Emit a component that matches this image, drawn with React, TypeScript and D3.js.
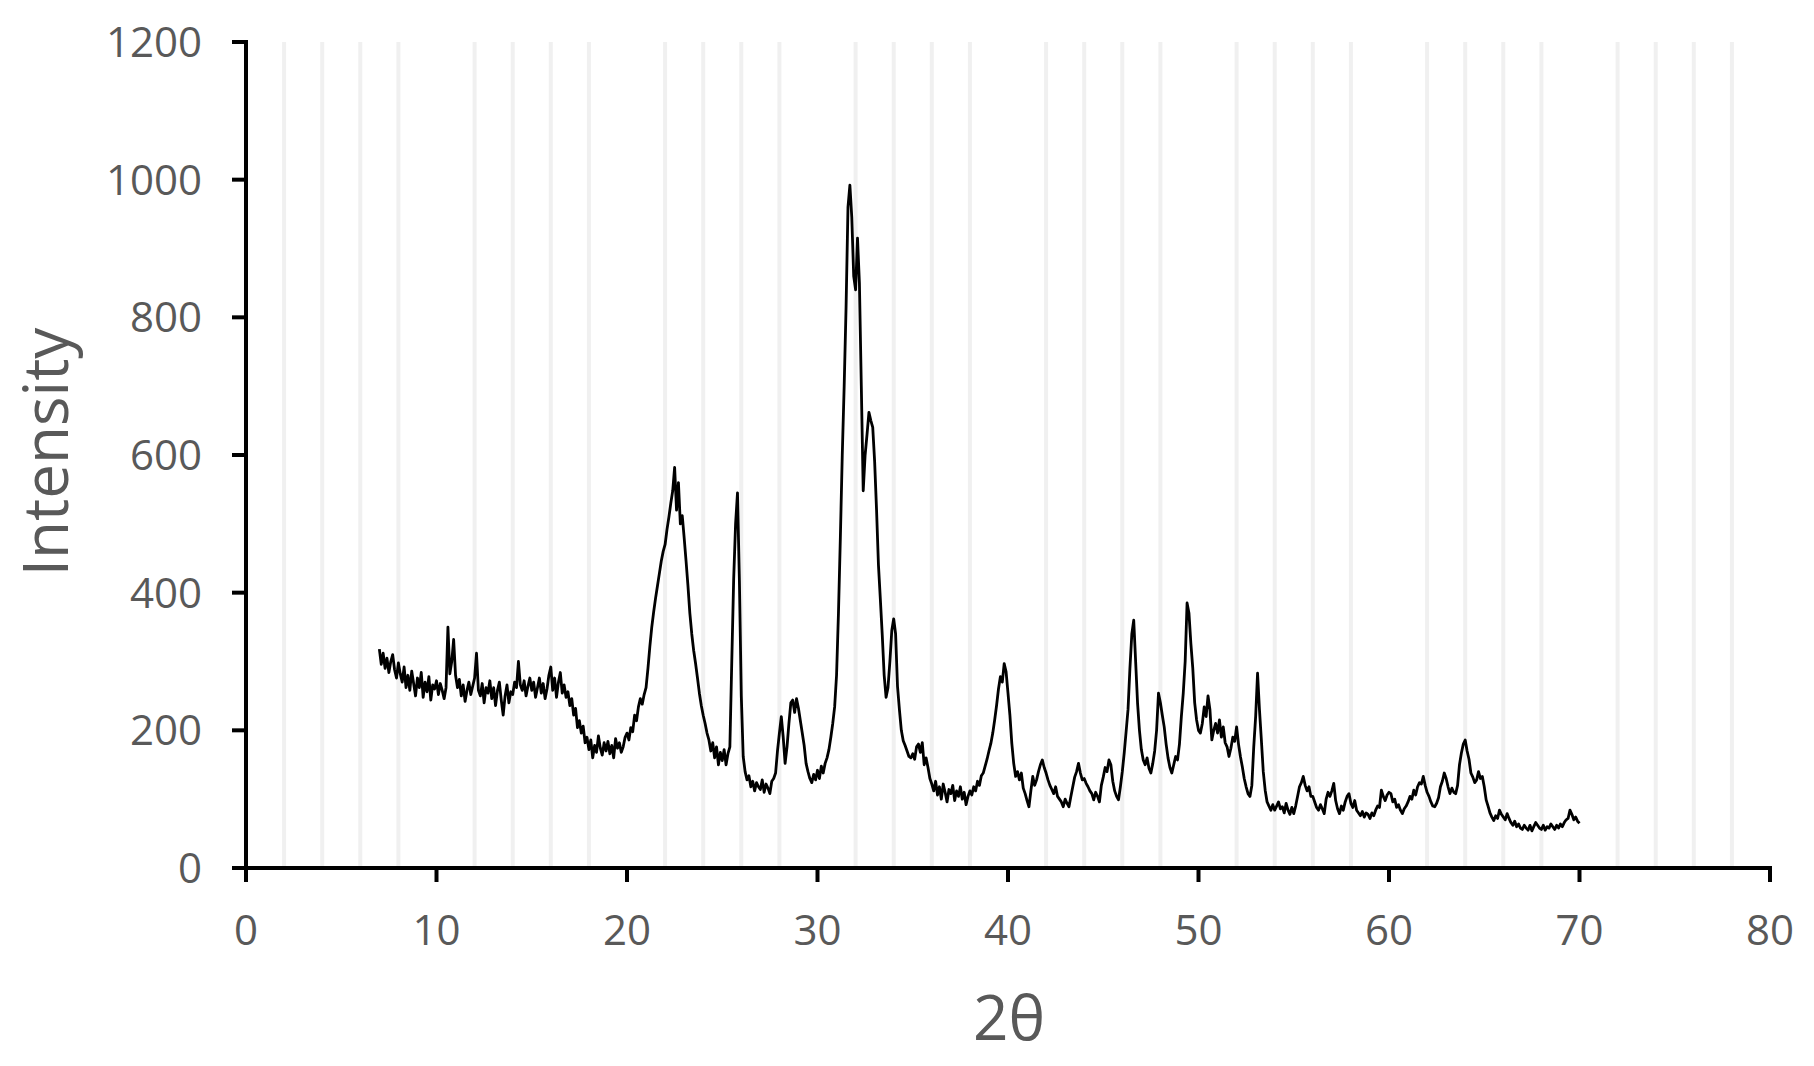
import React from "react";
import * as d3 from "d3";

// 2θ sampling: starts at 7.0°, one reading every 0.1°
const startAngle = 7.0;
const angleStep = 0.1;

// Intensity readings, one row per degree (7.x … 69.x), last value at 70.0
const intensity: number[] = [
  // 7
  318, 296, 312, 290, 305, 284, 300, 310, 288, 276,
  // 8
  298, 282, 270, 292, 262, 280, 258, 286, 268, 250,
  // 9
  276, 262, 284, 248, 270, 256, 278, 244, 266, 260,
  // 10
  272, 252, 268, 258, 246, 262, 350, 282, 300, 332,
  // 11
  280, 262, 274, 250, 266, 242, 258, 270, 252, 264,
  // 12
  276, 312, 258, 250, 268, 240, 262, 254, 272, 246,
  // 13
  262, 236, 258, 270, 244, 222, 250, 266, 240, 256,
  // 14
  252, 270, 262, 300, 266, 258, 272, 250, 264, 276,
  // 15
  258, 270, 248, 262, 276, 254, 268, 246, 260, 280,
  // 16
  292, 258, 276, 248, 270, 284, 254, 266, 248, 256,
  // 17
  236, 246, 222, 232, 204, 214, 196, 206, 182, 190,
  // 18
  172, 186, 160, 178, 168, 192, 174, 164, 182, 170,
  // 19
  184, 166, 178, 160, 188, 174, 182, 168, 176, 190,
  // 20
  196, 186, 204, 198, 222, 214, 234, 246, 238, 252,
  // 21
  262, 290, 322, 350, 372, 392, 410, 428, 446, 460,
  // 22
  470, 492, 510, 530, 548, 582, 520, 560, 500, 512,
  // 23
  480, 446, 410, 370, 340, 316, 297, 276, 254, 236,
  // 24
  222, 210, 196, 186, 170, 182, 160, 176, 150, 168,
  // 25
  156, 172, 150, 166, 176, 300, 420, 500, 545, 418,
  // 26
  250, 162, 140, 128, 134, 118, 126, 112, 124, 118,
  // 27
  114, 128, 110, 122, 116, 108, 126, 130, 138, 170,
  // 28
  196, 220, 190, 152, 176, 210, 240, 244, 226, 246,
  // 29
  232, 214, 196, 178, 152, 140, 130, 124, 136, 128,
  // 30
  142, 130, 148, 138, 152, 160, 172, 190, 210, 234,
  // 31
  280, 370, 480, 600, 700, 815, 960, 992, 945, 860,
  // 32
  840, 915, 850, 700, 548, 600, 630, 662, 650, 640,
  // 33
  590, 520, 440, 390, 338, 280, 248, 262, 300, 345,
  // 34
  362, 340, 264, 230, 200, 185, 178, 170, 162, 160,
  // 35
  166, 158, 176, 180, 168, 182, 150, 160, 146, 130,
  // 36
  122, 112, 126, 106, 118, 100, 122, 110, 96, 114,
  // 37
  108, 120, 98, 112, 104, 118, 100, 110, 92, 104,
  // 38
  112, 106, 118, 112, 126, 120, 134, 138, 148, 158,
  // 39
  170, 181, 196, 215, 236, 260, 278, 270, 297, 285,
  // 40
  254, 222, 181, 152, 133, 140, 128, 138, 116, 108,
  // 41
  98, 89, 112, 133, 120, 128, 140, 150, 157, 146,
  // 42
  138, 128, 120, 114, 108, 118, 104, 100, 96, 89,
  // 43
  100, 94, 89, 104, 118, 132, 140, 152, 138, 128,
  // 44
  130, 123, 118, 112, 108, 99, 110, 104, 96, 120,
  // 45
  132, 146, 140, 157, 150, 126, 112, 104, 99, 118,
  // 46
  140, 167, 198, 230, 290, 340, 360, 300, 240, 200,
  // 47
  172, 157, 150, 160, 145, 138, 152, 170, 200, 254,
  // 48
  240, 222, 205, 180, 160, 146, 138, 150, 162, 157,
  // 49
  180, 220, 254, 300, 385, 370, 326, 290, 240, 215,
  // 50
  200, 196, 210, 234, 220, 250, 230, 186, 200, 210,
  // 51
  196, 215, 190, 205, 182, 176, 162, 174, 190, 184,
  // 52
  205, 180, 162, 147, 130, 118, 108, 104, 120, 176,
  // 53
  220, 283, 230, 186, 140, 113, 96, 90, 84, 92,
  // 54
  84, 90, 96, 86, 89, 80, 94, 84, 78, 88,
  // 55
  79, 90, 104, 118, 124, 133, 120, 112, 118, 104,
  // 56
  104, 96, 88, 84, 92, 86, 79, 100, 110, 104,
  // 57
  112, 123, 98, 86, 79, 90, 84, 96, 104, 108,
  // 58
  94, 88, 98, 84, 80, 76, 82, 74, 80, 78,
  // 59
  72, 80, 76, 84, 90, 88, 113, 104, 98, 106,
  // 60
  110, 108, 96, 100, 88, 92, 84, 79, 86, 90,
  // 61
  96, 104, 100, 113, 106, 118, 124, 122, 133, 120,
  // 62
  110, 104, 96, 90, 89, 94, 102, 118, 126, 138,
  // 63
  130, 118, 108, 116, 110, 108, 120, 150, 167, 180,
  // 64
  186, 170, 158, 138, 132, 124, 128, 140, 130, 133,
  // 65
  118, 99, 90, 80, 74, 69, 76, 72, 84, 78,
  // 66
  74, 70, 79, 72, 66, 62, 68, 60, 64, 58,
  // 67
  56, 62, 58, 55, 62, 54, 60, 66, 62, 58,
  // 68
  56, 62, 55, 60, 58, 64, 60, 56, 62, 58,
  // 69
  64, 60, 66, 70, 72, 84, 78, 70, 74, 68,
  // 70.0
  65,
];

const xTicks = [0, 10, 20, 30, 40, 50, 60, 70, 80];
const yTicks = [0, 200, 400, 600, 800, 1000, 1200];
const xGridLines = [2, 4, 6, 8, 12, 14, 16, 18, 22, 24, 26, 28, 32, 34, 36, 38, 42, 44, 46, 48, 52, 54, 56, 58, 62, 64, 66, 68, 72, 74, 76, 78];
const xTitle = "2θ";
const yTitle = "Intensity";

const W = 1814;
const H = 1066;
const left = 246;
const right = 1770;
const top = 42;
const bottom = 868;
const textColor = "#595959";
const font = "'Open Sans', 'Liberation Sans', sans-serif";

export default function App() {
  const x = d3.scaleLinear().domain([0, 80]).range([left, right]);
  const y = d3.scaleLinear().domain([0, 1200]).range([bottom, top]);

  const points: [number, number][] = intensity.map((v, i) => [
    startAngle + i * angleStep,
    v,
  ]);
  const line = d3
    .line<[number, number]>()
    .x((d) => x(d[0]))
    .y((d) => y(d[1]));

  return (
    <svg
      width={W}
      height={H}
      style={{ position: "absolute", left: 0, top: 0, background: "#fff" }}
    >
      <rect x={0} y={0} width={W} height={H} fill="#fff" />
      {xGridLines.map((g) => (
        <line
          key={"g" + g}
          x1={x(g)}
          x2={x(g)}
          y1={y(1200)}
          y2={y(0)}
          stroke="#f0f0f0"
          strokeWidth={4}
        />
      ))}
      <path
        d={line(points) || ""}
        fill="none"
        stroke="#000"
        strokeWidth={2.8}
        strokeLinejoin="round"
      />
      {/* axes */}
      <line x1={left} x2={left} y1={top - 2} y2={bottom + 2} stroke="#000" strokeWidth={4} />
      <line x1={left - 2} x2={right + 2} y1={bottom} y2={bottom} stroke="#000" strokeWidth={4} />
      {yTicks.map((t) => (
        <g key={"y" + t}>
          <line x1={left - 14} x2={left} y1={y(t)} y2={y(t)} stroke="#000" strokeWidth={4} />
          <text
            x={202}
            y={y(t)}
            dy="0.36em"
            textAnchor="end"
            fontFamily={font}
            fontSize={42}
            fill={textColor}
          >
            {t}
          </text>
        </g>
      ))}
      {xTicks.map((t) => (
        <g key={"x" + t}>
          <line x1={x(t)} x2={x(t)} y1={bottom} y2={bottom + 14} stroke="#000" strokeWidth={4} />
          <text
            x={x(t)}
            y={930}
            dy="0.36em"
            textAnchor="middle"
            fontFamily={font}
            fontSize={42}
            fill={textColor}
          >
            {t}
          </text>
        </g>
      ))}
      <text
        transform={`translate(68, 452) rotate(-90)`}
        textAnchor="middle"
        fontFamily={font}
        fontSize={62}
        fill={textColor}
      >
        {yTitle}
      </text>
      <text
        x={1009}
        y={1040}
        textAnchor="middle"
        fontFamily={font}
        fontSize={62}
        fill={textColor}
      >
        {xTitle}
      </text>
    </svg>
  );
}
